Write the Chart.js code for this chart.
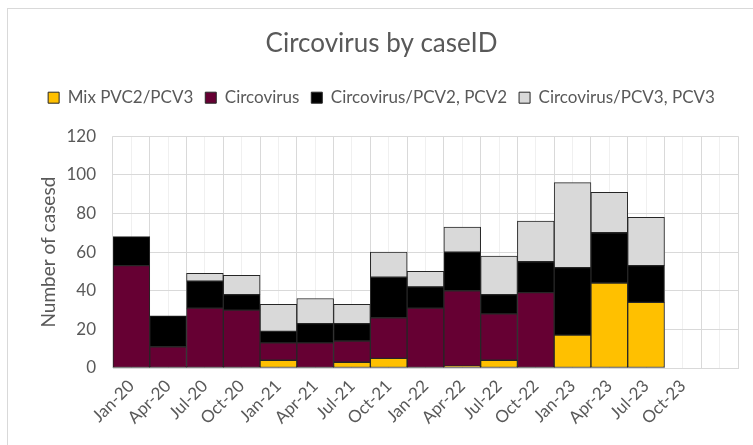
<!DOCTYPE html>
<html>
<head>
<meta charset="utf-8">
<script src="https://cdn.jsdelivr.net/npm/chart.js@4"></script>
<style>
html,body{margin:0;padding:0;background:#fff;}
#wrap{position:relative;width:753px;height:445px;}
#frame{position:absolute;left:7px;top:8px;width:760px;height:450px;border:1px solid #d9d9d9;box-sizing:border-box;}
canvas{position:absolute;left:0;top:0;}
</style>
</head>
<body>
<div id="wrap"><div id="frame"></div><canvas id="c" width="753" height="445"></canvas></div>
<script>
const categories = ['Jan-20','Apr-20','Jul-20','Oct-20','Jan-21','Apr-21','Jul-21','Oct-21','Jan-22','Apr-22','Jul-22','Oct-22','Jan-23','Apr-23','Jul-23','Oct-23',''];
const mixPvc2Pcv3 = [0,0,0,0,4,0,3,5,0,1,4,0,17,44,34,null,null];
const circovirus  = [53,11,31,30,9,13,11,21,31,39,24,39,0,0,0,null,null];
const circoPcv2   = [15,16,14,8,6,10,9,21,11,20,10,16,35,26,19,null,null];
const circoPcv3   = [0,0,4,10,14,13,10,13,8,13,20,21,44,21,25,null,null];
const yTicks = [0,20,40,60,80,100,120];

const FONT = 'Lato, "Open Sans", sans-serif';
const TXT = '#595959';
const GRID = '#d9d9d9';

function ds(label, data, color){
  return {label, data, backgroundColor: color, borderColor: '#262626', borderWidth: 1,
    borderSkipped: false, categoryPercentage: 1, barPercentage: 1, xAxisID: 'x', yAxisID: 'y'};
}

const legendSpace = {
  id: 'legendSpace',
  afterInit(chart){
    const lg = chart.legend;
    if (!lg) return;
    const fit = lg.fit;
    lg.fit = function(){ fit.call(this); this.height += 20; };
  }
};

new Chart(document.getElementById('c'), {
  type: 'bar',
  data: {
    labels: categories,
    datasets: [
      ds('Mix PVC2/PCV3', mixPvc2Pcv3, '#FFC000'),
      ds('Circovirus', circovirus, '#660033'),
      ds('Circovirus/PCV2, PCV2', circoPcv2, '#000000'),
      ds('Circovirus/PCV3, PCV3', circoPcv3, '#D9D9D9')
    ]
  },
  plugins: [legendSpace],
  options: {
    responsive: false,
    animation: false,
    devicePixelRatio: 1,
    layout: {padding: {left: 25, right: 15, top: 0, bottom: 0}},
    plugins: {
      tooltip: {enabled: false},
      title: {display: true, text: 'Circovirus by caseID', color: TXT,
        font: {family: FONT, size: 26, weight: 'normal'}, padding: {top: 28, bottom: 18}},
      legend: {position: 'top', labels: {color: TXT, font: {family: FONT, size: 17},
        boxWidth: 11, boxHeight: 11, padding: 12}}
    },
    scales: {
      x: {stacked: true, offset: true,
        grid: {color: GRID, lineWidth: 1, drawTicks: false, offset: true},
        border: {color: GRID},
        ticks: {color: TXT, font: {family: FONT, size: 17}, maxRotation: 45, minRotation: 45, padding: 8, autoSkip: false},
        afterFit: s => { s.height = 77; }
      },
      x2: {type: 'category', position: 'bottom', offset: true,
        grid: {color: '#f0f0f0', lineWidth: 1, drawTicks: false, offset: false},
        border: {display: false},
        ticks: {display: false},
        afterFit: s => { s.height = 0; }
      },
      y: {stacked: true, min: 0, max: 120,
        afterBuildTicks: s => { s.ticks = yTicks.map(v => ({value: v})); },
        grid: {color: GRID, lineWidth: 1, drawTicks: false},
        border: {display: false},
        ticks: {color: TXT, font: {family: FONT, size: 17}, padding: 17},
        title: {display: true, text: 'Number of casesd', color: TXT,
          font: {family: FONT, size: 19}, padding: {top: 12, bottom: 0}},
        afterFit: s => { s.width = 88; }
      }
    }
  }
});
</script>
</body>
</html>
